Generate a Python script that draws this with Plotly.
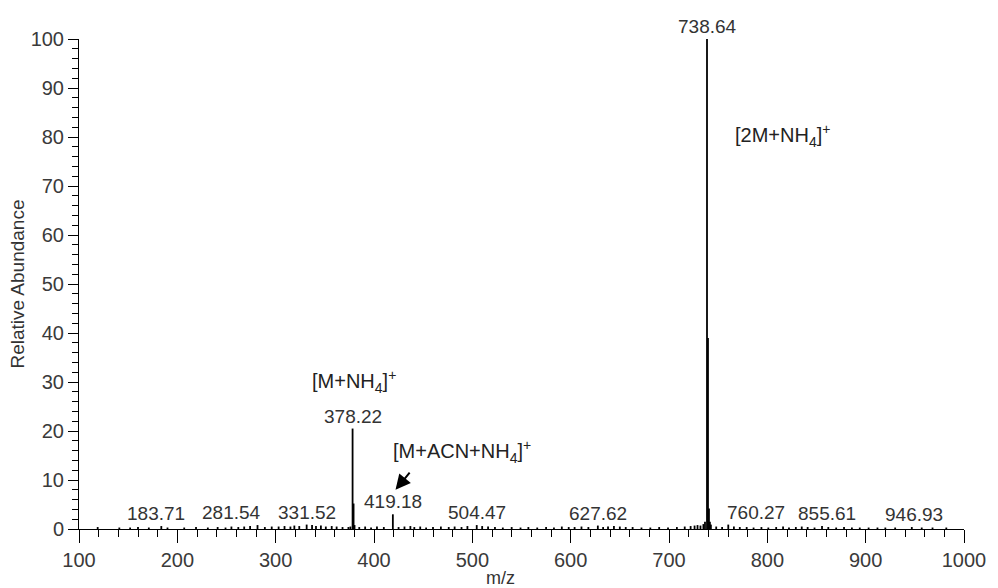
import plotly.graph_objects as go

# ---- data (m/z, relative abundance) ----
peak_mz = [119, 141, 152, 160, 171, 183.71, 190, 207, 219, 231, 241, 249, 255, 262, 268, 274, 281.54, 289, 296,
           303, 309, 315, 319, 324, 331.52, 337, 341, 346, 351, 357, 362, 368, 374, 376,
           378.22, 379.22, 380.2,
           385, 391, 397, 403, 410, 419.18, 425, 431, 437, 441, 447, 453, 460, 468, 476, 482, 489, 495,
           504.47, 510, 516, 523, 531, 540, 549, 557, 566, 575, 583, 591, 598,
           604, 611, 618, 627.62, 633, 638, 644, 650, 656, 663, 672, 681, 690, 699, 708, 716, 722, 726,
           729, 732, 735, 736.6,
           738.64, 739.64, 740.64, 741.6, 742.6,
           748, 754, 760.27, 766, 772, 779, 786, 794, 801, 809, 816, 822, 829, 835, 841, 848, 855.61,
           862, 870, 878, 886, 894, 903, 912, 920, 930, 946.93, 957, 968, 982]
peak_int = [0.4, 0.3, 0.3, 0.4, 0.3, 0.6, 0.3, 0.3, 0.4, 0.3, 0.4, 0.3, 0.5, 0.4, 0.5, 0.6, 0.8, 0.4, 0.5,
            0.5, 0.6, 0.5, 0.7, 0.6, 0.9, 0.8, 0.6, 0.7, 0.5, 0.6, 0.5, 0.4, 0.4, 0.5,
            20.5, 5.2, 0.8,
            0.4, 0.5, 0.3, 0.5, 0.4, 3.0, 0.4, 0.5, 0.6, 0.4, 0.5, 0.3, 0.4, 0.5, 0.4, 0.5, 0.4, 0.6,
            0.8, 0.6, 0.5, 0.4, 0.3, 0.4, 0.3, 0.4, 0.3, 0.4, 0.3, 0.5, 0.4,
            0.4, 0.5, 0.4, 0.7, 0.4, 0.5, 0.6, 0.5, 0.4, 0.4, 0.3, 0.3, 0.4, 0.3, 0.4, 0.5, 0.6, 0.7,
            0.8, 0.7, 1.0, 1.5,
            100, 39, 4.2, 1.5, 0.9,
            0.5, 0.4, 0.9, 0.5, 0.4, 0.4, 0.3, 0.4, 0.3, 0.4, 0.5, 0.3, 0.4, 0.5, 0.4, 0.3, 0.6,
            0.4, 0.3, 0.4, 0.3, 0.3, 0.3, 0.3, 0.3, 0.3, 0.4, 0.3, 0.3, 0.3]

label_mz = [183.71, 281.54, 331.52, 378.22, 419.18, 504.47, 627.62, 738.64, 760.27, 855.61, 946.93]
label_xshift = [-5, -26, 0, 0, 0, 0, 0, 0, 28, 5, 2]

ion_texts = ["[M+NH<sub>4</sub>]<sup>+</sup>", "[M+ACN+NH<sub>4</sub>]<sup>+</sup>", "[2M+NH<sub>4</sub>]<sup>+</sup>"]
ion_mz = [379.5, 416.8, 765.0]
ion_y = [30.2, 15.9, 80.4]
ion_anchor = ["center", "left", "left"]

arrow_head = (421.9, 8.0)
arrow_tail = (437.5, 11.8)

x_ticks = [100, 200, 300, 400, 500, 600, 700, 800, 900, 1000]
y_ticks = [0, 10, 20, 30, 40, 50, 60, 70, 80, 90, 100]

# ---- build stick spectrum ----
xs, ys = [], []
for m, h in zip(peak_mz, peak_int):
    xs += [m, m, None]
    ys += [0, h, None]

FONT = "Liberation Sans, Arial, sans-serif"
TXT = "#333333"

fig = go.Figure()
fig.add_trace(go.Scatter(x=xs, y=ys, mode="lines", line=dict(color="black", width=1.8),
                         hoverinfo="skip", showlegend=False))

lookup = dict(zip(peak_mz, peak_int))
for m, dx in zip(label_mz, label_xshift):
    fig.add_annotation(x=m, y=lookup[m], text=f"{m:.2f}", showarrow=False, xanchor="center",
                       yanchor="bottom", xshift=dx, yshift=0,
                       font=dict(family=FONT, size=19, color=TXT))

for t, m, yv, anc in zip(ion_texts, ion_mz, ion_y, ion_anchor):
    fig.add_annotation(x=m, y=yv, text=t, showarrow=False, xanchor=anc, yanchor="middle",
                       font=dict(family=FONT, size=20, color="#222222"))

fig.add_annotation(x=arrow_head[0], y=arrow_head[1], ax=arrow_tail[0], ay=arrow_tail[1],
                   axref="x", ayref="y", text="", showarrow=True, arrowhead=2, arrowsize=1.5,
                   arrowwidth=2, arrowcolor="black")

fig.add_annotation(x=0.476, y=-0.099, xref="paper", yref="paper", text="m/z", showarrow=False,
                   xanchor="center", yanchor="middle", font=dict(family=FONT, size=18, color=TXT))

fig.update_layout(
    width=998, height=588,
    margin=dict(l=79, r=27, t=39, b=59),
    paper_bgcolor="white", plot_bgcolor="white",
    font=dict(family=FONT, size=19, color=TXT),
    xaxis=dict(range=[100, 1000], tickvals=x_ticks, ticks="outside", ticklen=13, tickwidth=1,
               tickcolor="black", showline=True, linecolor="black", linewidth=1, showgrid=False,
               zeroline=False, tickfont=dict(size=20, color="#3a3a3a"),
               minor=dict(dtick=20, ticks="outside", ticklen=7, tickcolor="black", showgrid=False)),
    yaxis=dict(range=[0, 100], tickvals=y_ticks, ticks="outside", ticklen=10, tickwidth=1,
               tickcolor="black", showline=True, linecolor="black", linewidth=1, showgrid=False,
               zeroline=False, tickfont=dict(size=20, color="#3a3a3a"),
               title=dict(text="Relative Abundance", font=dict(size=19, color=TXT), standoff=0),
               minor=dict(dtick=2, ticks="outside", ticklen=6, tickcolor="black", showgrid=False)),
)

fig.write_html("out.html")
